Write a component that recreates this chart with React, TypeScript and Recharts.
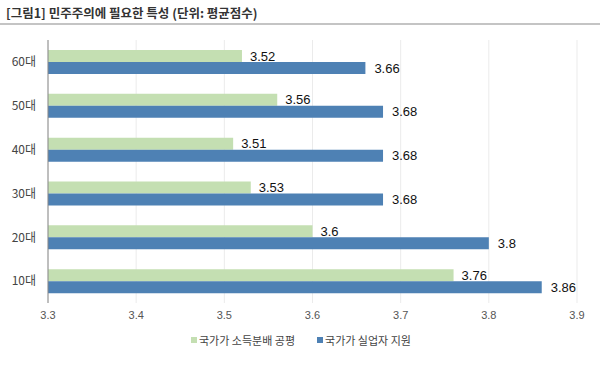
import React from 'react';
import { BarChart, Bar, XAxis, YAxis, CartesianGrid, LabelList } from 'recharts';

const categories = ['60대', '50대', '40대', '30대', '20대', '10대'];
const incomeFair = [3.52, 3.56, 3.51, 3.53, 3.6, 3.76];
const unemploySupport = [3.66, 3.68, 3.68, 3.68, 3.8, 3.86];
const xTicks = [3.3, 3.4, 3.5, 3.6, 3.7, 3.8, 3.9];
const seriesNames = ['국가가 소득분배 공평', '국가가 실업자 지원'];
const title = '[그림1] 민주주의에 필요한 특성 (단위: 평균점수)';

const data = categories.map((c, i) => ({ name: c, a: incomeFair[i], b: unemploySupport[i] }));

const GREEN = '#c4dfb2';
const BLUE = '#4e81b4';
const FONT = '"Noto Sans CJK KR", "Noto Sans", sans-serif';
const NUMFONT = '"Liberation Sans", Arial, sans-serif';

export default function App() {
  return (
    <div style={{ position: 'absolute', left: 0, top: 0, width: 600, height: 377, background: '#fff' }}>
      <div style={{ position: 'absolute', left: 6, top: 3, fontFamily: FONT, fontSize: 12.5, fontWeight: 700, color: '#333', whiteSpace: 'nowrap' }}>
        {title}
      </div>
      <div style={{ position: 'absolute', left: 0, top: 23, width: 600, height: 2, background: '#c4c4c4' }} />
      <BarChart
        width={600}
        height={377}
        data={data}
        layout="vertical"
        margin={{ top: 40, right: 23, bottom: 44, left: 0 }}
        barGap={0}
        barSize={12}
      >
        <CartesianGrid horizontal={false} stroke="#ebebeb" />
        <XAxis
          type="number"
          domain={[3.3, 3.9]}
          ticks={xTicks}
          axisLine={false}
          tickLine={false}
          tick={{ fontSize: 11, fill: '#555', fontFamily: NUMFONT }}
          tickFormatter={(v: number) => String(v)}
          tickMargin={2}
          height={30}
        />
        <YAxis
          type="category"
          dataKey="name"
          width={48}
          axisLine={{ stroke: '#888' }}
          tickLine={false}
          tick={{ fontSize: 12, fill: '#444', fontFamily: FONT }}
          tickMargin={6}
        />
        <Bar dataKey="a" name={seriesNames[0]} fill={GREEN} isAnimationActive={false}>
          <LabelList dataKey="a" position="right" offset={8} fill="#111" fontSize={13} fontFamily={NUMFONT} />
        </Bar>
        <Bar dataKey="b" name={seriesNames[1]} fill={BLUE} isAnimationActive={false}>
          <LabelList dataKey="b" position="right" offset={9} fill="#111" fontSize={13} fontFamily={NUMFONT} />
        </Bar>
      </BarChart>
      <div style={{ position: 'absolute', left: 191, top: 332, display: 'flex', fontFamily: FONT, fontSize: 11, color: '#444', whiteSpace: 'nowrap' }}>
        {[GREEN, BLUE].map((col, i) => (
          <span key={i} style={{ display: 'inline-flex', alignItems: 'center', marginRight: i === 0 ? 22 : 0 }}>
            <span style={{ width: 6, height: 6, background: col, display: 'inline-block', marginRight: 2 }} />
            {seriesNames[i]}
          </span>
        ))}
      </div>
    </div>
  );
}
